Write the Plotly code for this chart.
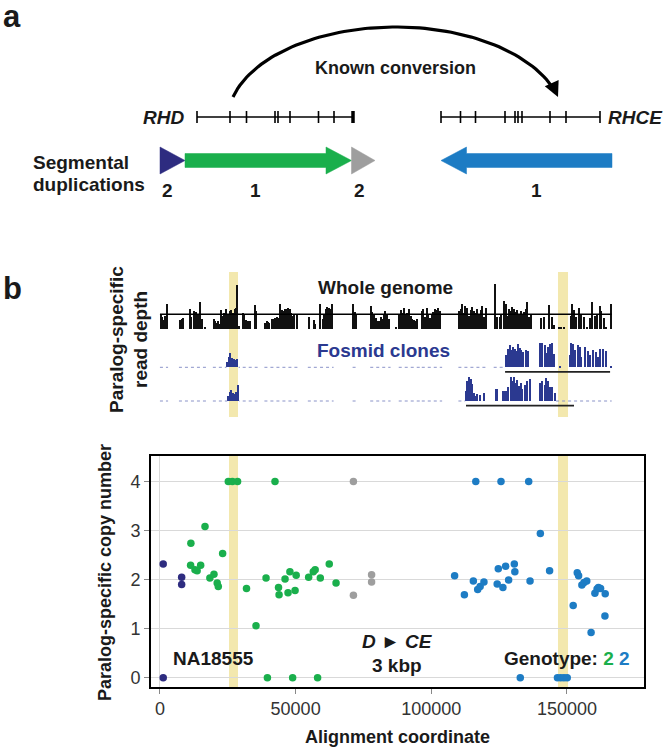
import numpy as np
import plotly.graph_objects as go

W, H = 668, 750
FONT = "Liberation Sans, Arial, Helvetica, sans-serif"
TXT = "#1a1a1a"

# ---------------- colours ----------------
C_PURPLE = "#2e2c80"
C_GREEN = "#1aaf4c"
C_GRAY = "#9e9e9e"
C_BLUE = "#1d7cc4"
C_NAVY = "#2b3990"
C_BAND = "#f3e8ae"

# ---------------- panel a : gene schematic (schematic units) ----------------
RHD_EXONS = [197, 230, 246.5, 275, 278, 290, 318.5, 334, 353]
RHCE_EXONS = [441, 460.5, 475.5, 505, 515, 518, 522, 550, 566, 600]
GENE_Y = 117
EXON_HALF = 6
SD_START = [160, 185, 351.5, 612]
SD_END = [185, 351.5, 375, 441]
SD_COLORS = [C_PURPLE, C_GREEN, C_GRAY, C_BLUE]
SD_LABELS = ["2", "1", "2", "1"]
SD_LABEL_X = [167.5, 255.6, 359, 536]
SD_Y = 160.5
ARC_LEFT, ARC_RIGHT, ARC_TOP, ARC_END_Y = 233, 558, 27, 97

# ---------------- panel b : read-depth tracks (kbp, depth) ----------------
WG_POS = [0.3, 0.8, 1.3, 1.8, 2.7,
          7.5, 8.1, 8.7, 11.0, 11.7, 12.5, 13.3, 14.0, 15.0, 15.7, 16.6,
          19.9, 20.5, 21.0, 21.5, 22.0, 22.5, 23.1, 23.6, 24.6, 25.2, 25.8, 26.4, 27.0, 27.6, 28.2, 28.6, 29.3,
          30.6, 31.2, 31.8, 32.4, 33.2, 35.1, 35.6,
          38.8, 39.4, 40.0, 40.4, 41.3, 41.9, 42.5, 43.1, 43.7, 44.5, 45.0, 45.6, 46.2, 46.8, 47.4, 48.0, 48.5, 49.0, 49.6, 50.5,
          54.9, 56.8, 57.3, 58.9, 59.2, 60.1, 60.7, 61.3, 61.8, 62.3, 62.9, 63.5,
          71.1, 71.8, 72.5,
          77.8, 78.4, 79.0, 79.6, 80.2, 80.8, 81.4, 82.0, 82.6, 83.2, 83.9, 84.5, 87.0,
          88.2, 88.8, 89.4, 90.0, 90.7, 91.3, 91.9, 92.5, 93.1, 93.7, 94.3, 94.9,
          96.6, 97.2, 97.8, 98.4, 99.0, 99.6, 100.3, 100.9, 101.5, 102.1, 102.7, 103.3,
          110.3, 110.9, 111.5, 112.1, 112.7, 113.3, 113.9, 114.6, 115.2, 115.8, 116.4, 117.1, 117.7, 118.3, 118.9, 119.5, 120.2,
          123.7, 124.4, 125.3, 125.9, 126.8, 127.5,
          128.2, 128.8, 129.4, 130.0, 130.6, 131.2, 131.8, 132.5, 133.1, 133.7, 134.3, 134.9, 135.5, 136.1, 136.7,
          140.4, 141.6, 143.5, 144.4, 145.2, 147.0, 148.0, 149.0,
          151.4, 152.1, 152.7, 153.4, 154.6, 155.2, 156.4, 157.3, 158.5, 159.5, 160.4, 161.2, 162.2, 162.8, 163.8, 164.6, 166.5]
WG_DEPTH = [2.0, 1.6, 1.2, 1.7, 3.4,
            1.2, 1.3, 1.5, 2.7, 1.6, 2.4, 2.3, 1.9, 3.8, 1.3, 0.2,
            1.3, 1.0, 0.8, 1.1, 0.7, 2.6, 1.8, 2.2, 2.8, 2.0, 2.4, 2.6, 2.2, 2.8, 2.9, 6.1, 0.3,
            2.2, 2.0, 1.2, 1.0, 1.0, 3.3, 2.4,
            0.8, 1.0, 0.9, 0.8, 1.4, 1.3, 1.5, 1.6, 1.5, 3.5, 2.6, 2.5, 2.8, 2.7, 2.9, 2.7, 2.2, 1.8, 2.0, 1.9,
            1.6, 1.2, 0.7, 1.2, 3.5, 1.4, 1.9, 2.8, 3.0, 2.9, 2.7, 3.4,
            3.4, 2.3, 1.9,
            3.1, 2.3, 1.9, 1.5, 1.1, 1.0, 1.6, 1.3, 2.1, 2.4, 2.0, 1.4, 0.2,
            2.0, 2.6, 2.2, 2.9, 1.9, 2.2, 2.8, 1.7, 1.4, 1.2, 1.0, 1.3,
            2.4, 2.7, 1.6, 2.9, 2.0, 1.5, 1.9, 2.3, 2.8, 2.6, 2.9, 2.4,
            2.5, 2.8, 3.4, 2.2, 3.2, 2.9, 1.8, 2.6, 3.0, 2.4, 2.2, 2.8, 2.0, 2.6, 3.1, 1.6, 2.9,
            6.3, 1.6, 1.6, 1.9, 3.9, 3.5,
            1.7, 2.8, 2.5, 3.0, 2.7, 2.3, 2.6, 1.9, 2.4, 2.0, 2.3, 2.8, 3.8, 1.6, 2.0,
            1.5, 1.6, 3.3, 1.6, 0.5, 0.1, 0.1, 0.1,
            1.8, 3.4, 2.6, 1.6, 2.9, 2.0, 1.6, 0.2, 1.5, 3.8, 1.7, 1.9, 3.2, 2.4, 1.5, 0.1, 3.5]
WG_MEAN = 2.0
TRACK_END = 166.5

FOS1_POS = [24.8, 25.4, 26.0, 26.7, 27.3, 27.9, 28.5,
            127.5, 128.4, 129.0, 129.6, 130.3, 130.9, 131.5, 132.1, 132.7, 133.3, 134.0, 134.9, 135.8,
            140.1, 140.8, 141.9, 142.5, 143.1, 144.0, 144.7, 145.2, 147.4,
            151.1, 151.7, 152.3, 153.0, 154.2, 154.8, 155.4, 156.7, 157.9, 158.7, 159.7, 160.7, 161.6,
            162.2, 163.4, 164.4, 166.5]
FOS1_DEPTH = [5, 10, 14, 9, 8, 7, 8,
              12, 18, 22, 17, 20, 18, 16, 23, 19, 17, 15, 17, 16,
              24, 24, 22, 14, 20, 23, 24, 13, 1,
              12, 24, 23, 17, 22, 20, 10, 20, 16, 12, 17, 15, 10,
              18, 18, 16, 1]
FOS2_POS = [25.2, 25.8, 26.4, 27.0, 27.6, 28.3, 28.9,
            112.8, 113.4, 114.0, 114.6, 115.2, 115.9, 116.5, 117.1, 117.9, 119.5,
            123.8, 124.4, 126.5, 127.2, 127.8, 128.4, 129.4, 130.0, 130.6, 131.2, 131.8, 132.5, 133.1,
            133.7, 134.6, 135.5, 136.4,
            140.1, 140.8, 141.9, 142.5, 143.1, 144.0, 144.7, 145.6]
FOS2_DEPTH = [5, 9, 11, 8, 7, 9, 16,
              10, 20, 24, 22, 17, 8, 5, 7, 6, 8,
              12, 12, 10, 10, 10, 14, 24, 20, 24, 18, 21, 15, 18,
              12, 16, 20, 22,
              18, 20, 16, 23, 20, 14, 14, 8]
FOS1_LOW = [(0, 3), (7, 17), (19.5, 24.5), (29, 29.5), (30.5, 36), (38.5, 50.7), (54.5, 58), (59, 64),
            (71, 73), (77.5, 85), (88, 96), (96.5, 104), (110, 120), (123, 127)]
FOS2_LOW = [(0, 3), (7, 17), (19.5, 24.8), (29.3, 29.5), (30.5, 36), (38.5, 50.7), (54.5, 64), (71, 73),
            (77.5, 85), (88, 96), (96.5, 104), (110, 112.5), (146, 166.5)]
FOS1_CLONE = (127.2, 165.9)
FOS2_CLONE = (112.8, 152.6)

# highlighted regions (alignment coordinate)
BANDS = [(25450, 28770), (146700, 150400)]

# ---------------- panel b : copy-number scatter ----------------
PURPLE_X = [1200, 1200, 8000, 8000]
PURPLE_Y = [2.32, 0, 2.05, 1.90]
GREEN_X = [11400, 11300, 12900, 13700, 15000, 16600, 18400, 19900, 21100, 21500, 23100, 25200, 26700,
           28600, 31900, 35400, 39100, 39600, 42400, 43700, 43900, 46100, 47200, 47900, 48900, 49800,
           50200, 54800, 56500, 57200, 58100, 59100, 62400, 64900]
GREEN_Y = [2.74, 2.29, 2.20, 2.18, 2.29, 3.08, 2.03, 2.11, 1.93, 1.86, 2.53, 4, 4,
           4, 1.82, 1.06, 2.03, 0, 4, 1.84, 1.69, 2.01, 1.73, 2.16, 0, 1.78,
           2.09, 2.05, 2.16, 2.20, 0, 2.03, 2.32, 1.93]
GRAY_X = [71300, 71300, 78000, 78000]
GRAY_Y = [4, 1.68, 2.10, 1.95]
BLUE_X = [108600, 112200, 115500, 116400, 117100, 118000, 119400, 124300, 124700, 125700, 126400,
          127400, 128500, 130600, 130800, 132800, 135900, 136400, 140200, 143600, 146500, 147700,
          148900, 150100, 152300, 153800, 154300, 155500, 156300, 157300, 158900, 160300, 161100,
          161600, 162400, 164100, 164000]
BLUE_Y = [2.08, 1.69, 1.97, 4, 1.80, 1.86, 1.95, 1.91, 2.22, 4, 1.84,
          2.27, 1.99, 2.32, 2.16, 0, 4, 1.97, 2.94, 2.18, 0, 0,
          0, 0, 1.47, 2.14, 2.08, 1.89, 1.94, 1.97, 0.92, 1.72, 1.81,
          1.84, 1.82, 1.71, 1.26]
X_TICKS = [0, 50000, 100000, 150000]
X_TICK_TEXT = ["0", "50000", "100000", "150000"]
Y_TICKS = [0, 1, 2, 3, 4]
X_RANGE = [-3300, 178400]
Y_RANGE = [-0.19, 4.52]

fig = go.Figure()


def seg_xy(pairs, y):
    xs, ys = [], []
    for a, b in pairs:
        xs += [a * 1000, b * 1000, None]
        ys += [y, y, None]
    return xs, ys


# ---- schematic traces (x5/y5, reversed y)
SA = dict(xaxis="x5", yaxis="y5", showlegend=False, hoverinfo="skip")
for exons, thick_last in ((RHD_EXONS, True), (RHCE_EXONS, False)):
    fig.add_trace(go.Scatter(x=[exons[0], exons[-1]], y=[GENE_Y, GENE_Y], mode="lines",
                             line=dict(color="black", width=1.6), **SA))
    ex = exons[:-1] if thick_last else exons
    xs, ys = [], []
    for e in ex:
        xs += [e, e, None]
        ys += [GENE_Y - EXON_HALF, GENE_Y + EXON_HALF, None]
    fig.add_trace(go.Scatter(x=xs, y=ys, mode="lines", line=dict(color="black", width=1.6), **SA))
    if thick_last:
        fig.add_trace(go.Scatter(x=[exons[-1], exons[-1]], y=[GENE_Y - EXON_HALF, GENE_Y + EXON_HALF],
                                 mode="lines", line=dict(color="black", width=3.5), **SA))

BODY, HEAD, HEADLEN = 7, 13.5, 25.5
for x0, x1, col in zip(SD_START, SD_END, SD_COLORS):
    s = 1 if x1 > x0 else -1
    if abs(x1 - x0) <= HEADLEN + 0.5:
        px = [x0, x1, x0, x0]
        py = [SD_Y - HEAD, SD_Y, SD_Y + HEAD, SD_Y - HEAD]
    else:
        n = x1 - s * HEADLEN
        px = [x0, n, n, x1, n, n, x0, x0]
        py = [SD_Y - BODY, SD_Y - BODY, SD_Y - HEAD, SD_Y, SD_Y + HEAD, SD_Y + BODY, SD_Y + BODY, SD_Y - BODY]
    fig.add_trace(go.Scatter(x=px, y=py, mode="lines", fill="toself", fillcolor=col,
                             line=dict(color=col, width=0.5), **SA))

# arc of the known conversion (elliptical arc)
cx = (ARC_LEFT + ARC_RIGHT) / 2
ry = 93.0
cy = ARC_TOP + ry
s0 = (cy - ARC_END_Y) / ry
rx = (ARC_RIGHT - ARC_LEFT) / 2 / np.sqrt(1 - s0 ** 2)
t0 = np.arcsin(s0)
tt = np.linspace(np.pi - t0, t0 + 0.07, 80)
fig.add_trace(go.Scatter(x=cx + rx * np.cos(tt), y=cy - ry * np.sin(tt), mode="lines",
                         line=dict(color="black", width=3.2), **SA))

# ---- read-depth tracks
fig.add_trace(go.Bar(x=[p * 1000 for p in WG_POS], y=WG_DEPTH, width=550, marker_color="#111111",
                     marker_line_width=0, xaxis="x2", yaxis="y2", showlegend=False))
fig.add_trace(go.Scatter(x=[0, TRACK_END * 1000], y=[WG_MEAN, WG_MEAN], mode="lines",
                         line=dict(color="black", width=1.5), xaxis="x2", yaxis="y2", showlegend=False))
for pos, dep, low, clone, ya in ((FOS1_POS, FOS1_DEPTH, FOS1_LOW, FOS1_CLONE, "y3"),
                                 (FOS2_POS, FOS2_DEPTH, FOS2_LOW, FOS2_CLONE, "y4")):
    lx, ly = seg_xy(low, 0)
    fig.add_trace(go.Scatter(x=lx, y=ly, mode="lines", line=dict(color="#8a93c8", width=1, dash="dot"),
                             xaxis="x2", yaxis=ya, showlegend=False))
    fig.add_trace(go.Bar(x=[p * 1000 for p in pos], y=dep, width=550, marker_color=C_NAVY,
                         marker_line_width=0, xaxis="x2", yaxis=ya, showlegend=False))
    cxs, cys = seg_xy([clone], -4.6)
    fig.add_trace(go.Scatter(x=cxs, y=cys, mode="lines", line=dict(color="#222", width=1.6),
                             xaxis="x2", yaxis=ya, showlegend=False))

# ---- copy-number scatter
for xs, ys, col in ((PURPLE_X, PURPLE_Y, C_PURPLE), (GREEN_X, GREEN_Y, C_GREEN),
                    (GRAY_X, GRAY_Y, C_GRAY), (BLUE_X, BLUE_Y, C_BLUE)):
    fig.add_trace(go.Scatter(x=xs, y=ys, mode="markers", marker=dict(color=col, size=7.5),
                             xaxis="x", yaxis="y", showlegend=False))

# ---- highlight bands
shapes = []
for a, b in BANDS:
    shapes.append(dict(type="rect", xref="x", yref="y domain", x0=a, x1=b, y0=0, y1=1,
                       fillcolor=C_BAND, line_width=0, layer="below"))
    shapes.append(dict(type="rect", xref="x2", yref="paper", x0=a, x1=b, y0=1 - 417 / H, y1=1 - 272 / H,
                       fillcolor=C_BAND, line_width=0, layer="below"))


def ann(text, x, y, size=19, color=TXT, angle=0, xanchor="center", bold=True, italic=False):
    t = text
    if italic:
        t = "<i>" + t + "</i>"
    if bold:
        t = "<b>" + t + "</b>"
    return dict(text=t, x=x, y=y, xref="x5", yref="y5", showarrow=False, textangle=angle,
                xanchor=xanchor, yanchor="middle", font=dict(family=FONT, size=size, color=color))


annots = [
    ann("a", 12, 16, size=31),
    ann("Known conversion", 395, 68, size=18),
    ann("RHD", 186, GENE_Y, italic=True, xanchor="right"),
    ann("RHCE", 606, GENE_Y, italic=True, xanchor="left"),
    ann("Segmental", 31, 162, xanchor="left"),
    ann("duplications", 31, 184, xanchor="left"),
    ann("b", 12, 288, size=31),
    ann("Paralog-specific", 116, 340, angle=-90),
    ann("read depth", 140, 340, angle=-90),
    ann("Whole genome", 385, 287),
    ann("Fosmid clones", 383, 350, color=C_NAVY),
    ann("Paralog-specific copy number", 105, 573, size=18, angle=-90),
    ann("Alignment coordinate", 397, 737, size=18),
    ann("NA18555", 213, 658),
    ann("<i>D</i> \u25BA <i>CE</i>", 397, 641),
    ann("3 kbp", 397, 665),
    ann("Genotype: <span style='color:%s'>2</span> <span style='color:%s'>2</span>" % (C_GREEN, C_BLUE),
        567, 658),
]
for lab, lx in zip(SD_LABELS, SD_LABEL_X):
    annots.append(ann(lab, lx, 190))
# arrow head of the conversion arc
annots.append(dict(x=ARC_RIGHT, y=ARC_END_Y, xref="x5", yref="y5", text="", showarrow=True,
                   ax=-5, ay=-11, arrowhead=2, arrowsize=0.95, arrowwidth=3.2, arrowcolor="black",
                   standoff=0))

hid = dict(visible=False, showgrid=False, zeroline=False, fixedrange=True)
WG_BASE, WG_UNIT = 328.5, 7.1
fig.update_layout(
    width=W, height=H, margin=dict(l=0, r=0, t=0, b=0),
    paper_bgcolor="white", plot_bgcolor="rgba(0,0,0,0)",
    barmode="overlay", bargap=0,
    font=dict(family=FONT, color="#333"),
    xaxis=dict(domain=[151 / W, 644 / W], range=X_RANGE, tickvals=X_TICKS, ticktext=X_TICK_TEXT,
               showgrid=False, zeroline=True, zerolinecolor="#d9d9d9", zerolinewidth=1.2,
               showline=True, linecolor="black", linewidth=1.6, mirror=True,
               ticks="outside", ticklen=5, tickcolor="#888", tickfont=dict(size=18, color="#333"),
               anchor="y"),
    yaxis=dict(domain=[1 - 687 / H, 1 - 456 / H], range=Y_RANGE, tickvals=Y_TICKS,
               showgrid=True, gridcolor="#d9d9d9", gridwidth=1.2, zeroline=False,
               showline=True, linecolor="black", linewidth=1.6, mirror=True,
               ticks="outside", ticklen=5, tickcolor="#888", tickfont=dict(size=18, color="#333"),
               anchor="x"),
    xaxis2=dict(domain=[151 / W, 644 / W], range=X_RANGE, anchor="y2", **hid),
    yaxis2=dict(domain=[1 - 340 / H, 1 - 270 / H],
                range=[(WG_BASE - 340) / WG_UNIT, (WG_BASE - 270) / WG_UNIT], anchor="x2", **hid),
    yaxis3=dict(domain=[1 - 385 / H, 1 - 335 / H], range=[367.3 - 385, 367.3 - 335], anchor="x2", **hid),
    yaxis4=dict(domain=[1 - 415 / H, 1 - 375 / H], range=[401 - 415, 401 - 375], anchor="x2", **hid),
    xaxis5=dict(domain=[0, 1], range=[0, W], anchor="y5", **hid),
    yaxis5=dict(domain=[0, 1], range=[H, 0], anchor="x5", **hid),
    shapes=shapes,
    annotations=annots,
)

fig.write_html("out.html", config={"displayModeBar": False},
               post_script="document.body.style.margin='0px';")
